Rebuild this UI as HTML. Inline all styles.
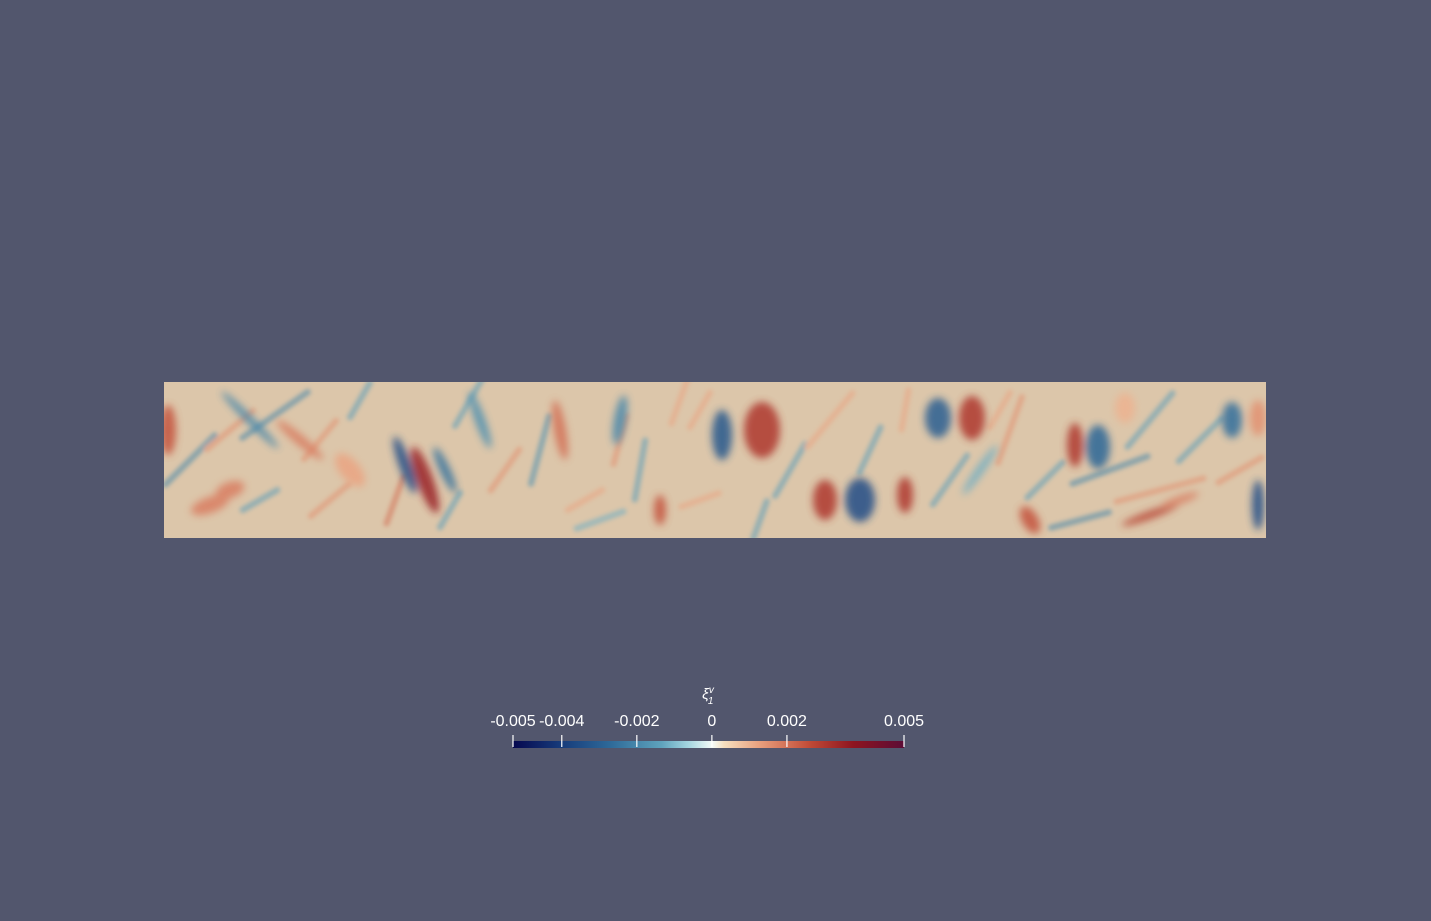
<!DOCTYPE html>
<html><head><meta charset="utf-8"><style>
html,body{margin:0;padding:0;background:#52566d;width:1431px;height:921px;overflow:hidden;font-family:"Liberation Sans",sans-serif}
</style></head><body>
<svg width="1431" height="921" viewBox="0 0 1431 921">
<defs>
<linearGradient id="cmap" x1="0" x2="1" y1="0" y2="0">
<stop offset="0" stop-color="#06084f"/>
<stop offset="0.12" stop-color="#163a7a"/>
<stop offset="0.25" stop-color="#2e6a99"/>
<stop offset="0.38" stop-color="#5fa3bd"/>
<stop offset="0.45" stop-color="#a6d6e0"/>
<stop offset="0.51" stop-color="#f4fbf8"/>
<stop offset="0.54" stop-color="#f6dfbf"/>
<stop offset="0.63" stop-color="#e9a07e"/>
<stop offset="0.76" stop-color="#c04a36"/>
<stop offset="0.87" stop-color="#8e1520"/>
<stop offset="1" stop-color="#5c0c36"/>
</linearGradient>
<filter id="bl" x="-50%" y="-50%" width="200%" height="200%"><feGaussianBlur stdDeviation="4"/></filter>
<filter id="bl2" x="-50%" y="-50%" width="200%" height="200%"><feGaussianBlur stdDeviation="2"/></filter>
<clipPath id="fc"><rect x="164" y="382" width="1102" height="156"/></clipPath>
</defs>
<g clip-path="url(#fc)">
<rect x="164" y="382" width="1102" height="156" fill="#dcc6aa"/>
<g id="streaks" filter="url(#bl2)" opacity="0.55"></g>
<g id="blobs" filter="url(#bl)" opacity="0.85"></g>
</g>
<g id="cbar">
<text x="708" y="699" font-size="15" fill="#fff" font-style="italic" text-anchor="middle">ξ<tspan font-size="10" dy="-6">v</tspan><tspan font-size="10" dx="-6" dy="11">1</tspan></text>
<rect x="513" y="741" width="391" height="7" fill="url(#cmap)"/>
</g>
</svg>
<script>
const tickValues=[-0.0053,-0.004,-0.002,0,0.002,0.00512];
const tickLabels=["-0.005","-0.004","-0.002","0","0.002","0.005"];
const vmin=-0.0053,vmax=0.00512;
// blobs: [cx, cy, rx, ry, rotation, value]
const blobX=[168,722,762,938,972,1075,1098,825,860,905,1232,1258,425,405,445,210,230,1150,1258,1030,1125,250,300,560,620,480,350,660,980,1180];
const blobY=[430,435,430,418,418,445,447,500,500,495,420,418,480,465,470,505,490,515,505,520,408,420,440,430,420,420,470,510,470,500];
const blobRX=[8,10,18,13,13,8,12,12,15,8,10,8,8,6,5,20,15,30,6,8,10,4,5,6,6,5,10,6,4,20];
const blobRY=[25,25,28,20,22,22,22,20,22,18,18,18,35,30,25,8,8,4,25,15,15,40,30,30,25,30,20,15,30,4];
const blobRot=[0,0,0,0,0,0,0,0,0,0,0,0,-20,-20,-25,-20,-20,-20,0,-30,0,-45,-50,-10,10,-20,-40,0,35,-20];
const blobVal=[0.0025,-0.0032,0.003,-0.003,0.003,0.003,-0.0028,0.003,-0.0035,0.003,-0.0026,0.0015,0.0035,-0.0035,-0.0025,0.0018,0.0018,0.0028,-0.0035,0.0025,0.001,-0.002,0.0018,0.002,-0.002,-0.0018,0.0012,0.0025,-0.0012,0.0018];
// streaks: faint diagonal texture lines [x, y, length, angle, value]
const strX=[190,230,275,320,360,395,470,505,540,585,640,680,700,790,830,870,905,950,1010,1045,1110,1160,1200,1240,260,330,450,600,760,1000,1080,1150,620,700];
const strY=[460,430,415,440,400,500,400,470,450,500,470,400,500,470,420,450,410,480,430,480,470,490,440,470,500,500,510,520,520,410,520,420,440,410];
const strL=[70,60,80,50,40,50,60,50,70,40,60,50,40,60,70,50,40,60,70,50,80,90,60,50,40,50,40,50,40,40,60,70,50,40];
const strA=[-45,-40,-35,-50,-60,-70,-60,-55,-75,-30,-80,-70,-20,-60,-50,-65,-80,-55,-70,-45,-20,-15,-45,-30,-30,-40,-60,-20,-70,-60,-15,-50,-75,-60];
const strV=[-0.002,0.0015,-0.002,0.0015,-0.0015,0.002,-0.0015,0.0015,-0.0018,0.0012,-0.0015,0.0012,0.0012,-0.0015,0.0012,-0.0015,0.0012,-0.0015,0.0015,-0.0015,-0.002,0.0015,-0.0015,0.0015,-0.0015,0.0015,-0.0015,-0.0012,-0.0015,0.0012,-0.002,-0.0015,0.0015,0.0012];
function col(v){
  const t=(v-vmin)/(vmax-vmin);
  const s=[[0,[6,8,79]],[0.12,[22,58,122]],[0.25,[46,106,153]],[0.38,[95,163,189]],[0.45,[166,214,224]],[0.51,[230,220,205]],[0.54,[246,223,191]],[0.63,[233,160,126]],[0.76,[192,74,54]],[0.87,[142,21,32]],[1,[92,12,54]]];
  for(let i=1;i<s.length;i++){if(t<=s[i][0]){const a=s[i-1],b=s[i],f=(t-a[0])/(b[0]-a[0]);return 'rgb('+a[1].map((c,k)=>Math.round(c+(b[1][k]-c)*f)).join(',')+')';}}
  return 'rgb(92,12,54)';
}
const ns='http://www.w3.org/2000/svg';
const sg=document.getElementById('streaks');
for(let i=0;i<strX.length;i++){
  const r=strA[i]*Math.PI/180, dx=Math.cos(r)*strL[i]/2, dy=Math.sin(r)*strL[i]/2;
  const l=document.createElementNS(ns,'line');
  l.setAttribute('x1',strX[i]-dx);l.setAttribute('y1',strY[i]-dy);
  l.setAttribute('x2',strX[i]+dx);l.setAttribute('y2',strY[i]+dy);
  l.setAttribute('stroke',col(strV[i]));l.setAttribute('stroke-width','6');l.setAttribute('stroke-linecap','round');
  
  
  sg.appendChild(l);
}
const g=document.getElementById('blobs');
for(let i=0;i<blobX.length;i++){
  const e=document.createElementNS(ns,'ellipse');
  e.setAttribute('cx',blobX[i]);e.setAttribute('cy',blobY[i]);
  e.setAttribute('rx',blobRX[i]);e.setAttribute('ry',blobRY[i]);
  e.setAttribute('transform','rotate('+blobRot[i]+' '+blobX[i]+' '+blobY[i]+')');
  e.setAttribute('fill',col(blobVal[i]));
  
  
  g.appendChild(e);
}
const cb=document.getElementById('cbar');
const x0=513,w=391;
function xs(v){return x0+(v-vmin)/(vmax-vmin)*w;}
for(let i=0;i<tickValues.length;i++){
  const x=xs(tickValues[i]);
  const l=document.createElementNS(ns,'line');
  l.setAttribute('x1',x);l.setAttribute('x2',x);l.setAttribute('y1',735);l.setAttribute('y2',747);
  l.setAttribute('stroke','#fff');l.setAttribute('stroke-width','1.2');
  
  
  cb.appendChild(l);
  const t=document.createElementNS(ns,'text');
  t.setAttribute('x',x);t.setAttribute('y',726);t.setAttribute('fill','#fff');
  t.setAttribute('font-size','16');t.setAttribute('text-anchor','middle');
  t.textContent=tickLabels[i];
  
  
  cb.appendChild(t);
}
</script>
</body></html>
